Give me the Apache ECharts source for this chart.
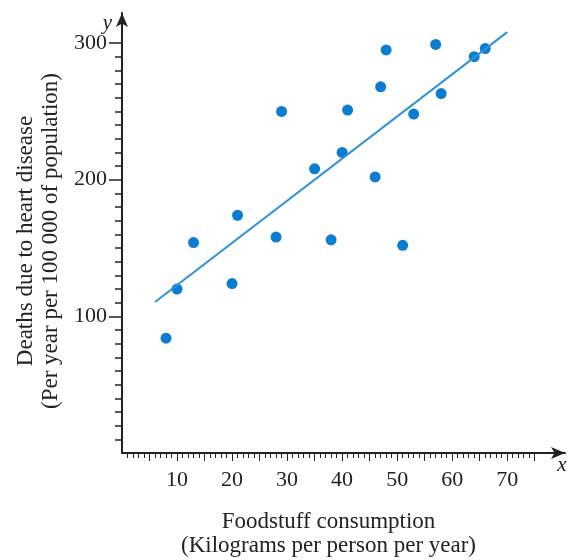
<!DOCTYPE html>
<html>
<head>
<meta charset="utf-8">
<script src="https://cdn.jsdelivr.net/npm/echarts@6/dist/echarts.min.js"></script>
<style>
  html, body { margin: 0; padding: 0; background: #fff; }
  #chart { width: 570px; height: 560px; }
</style>
</head>
<body>
<div id="chart"></div>
<script>
// foodstuff consumption (kg per person per year)
var consumption = [8, 10, 13, 20, 21, 28, 29, 35, 38, 40, 41, 46, 47, 48, 51, 53, 57, 58, 64, 66];
// deaths due to heart disease (per 100 000 of population)
var deaths = [84, 120, 154, 124, 174, 158, 250, 208, 156, 220, 251, 202, 268, 295, 152, 248, 299, 263, 290, 296];

// line of best fit, read at its two ends
var fitX = [6, 70];
var fitY = [110.5, 308];

// tick marks and labels
var xMinorTicks = [];
for (var i = 1; i <= 75; i++) xMinorTicks.push(i);
var xMajorTicks = [5, 10, 15, 20, 25, 30, 35, 40, 45, 50, 55, 60, 65, 70, 75];
var xLabels = [10, 20, 30, 40, 50, 60, 70];
var yMinorTicks = [];
for (var j = 10; j <= 290; j += 10) yMinorTicks.push(j);
var yLabels = [100, 200, 300];

var points = consumption.map(function (c, k) { return [c, deaths[k]]; });
var fitLine = fitX.map(function (c, k) { return [c, fitY[k]]; });

var chart = echarts.init(document.getElementById('chart'));

var serif = '"Liberation Serif", "DejaVu Serif", serif';
var ink = '#222';

var option = {
    animation: false,
    // fixed grid box, do not let the axis names squeeze it
    grid: { left: 122, right: 5, top: 13, bottom: 107, outerBoundsMode: 'none' },
    xAxis: [{
        type: 'value',
        min: 0,
        max: 80.5,
        splitLine: { show: false },
        axisLine: {
            onZero: false,
            lineStyle: { color: ink, width: 2 },
            symbol: ['none', 'arrow'],
            symbolSize: [9, 14]
        },
        axisTick: { customValues: xMinorTicks, length: 5, lineStyle: { color: ink, width: 1 } },
        axisLabel: { show: false },
        name: 'x',
        nameLocation: 'end',
        nameGap: -3,
        nameTextStyle: {
            fontFamily: serif, fontStyle: 'italic', fontSize: 21, color: ink,
            align: 'center', verticalAlign: 'top', padding: [2, 0, 0, 0]
        }
    }, {
        type: 'value',
        min: 0,
        max: 80.5,
        position: 'bottom',
        splitLine: { show: false },
        axisLine: { show: false, onZero: false },
        axisTick: { customValues: xMajorTicks, length: 8, lineStyle: { color: ink, width: 1 } },
        axisLabel: {
            customValues: xLabels, margin: 16,
            fontFamily: serif, fontSize: 22, color: ink
        },
        name: 'Foodstuff consumption\n(Kilograms per person per year)',
        nameLocation: 'middle',
        nameGap: 57,
        nameTextStyle: {
            fontFamily: serif, fontSize: 23, color: ink, lineHeight: 24,
            padding: [0, 30, 0, 0]
        }
    }],
    yAxis: [{
        type: 'value',
        min: 0,
        max: 322,
        splitLine: { show: false },
        axisLine: {
            onZero: false,
            lineStyle: { color: ink, width: 2 },
            symbol: ['none', 'arrow'],
            symbolSize: [9, 14]
        },
        axisTick: { customValues: yMinorTicks, length: 7, lineStyle: { color: ink, width: 1.5 } },
        axisLabel: { show: false },
        name: 'y',
        nameLocation: 'end',
        nameGap: -10,
        nameTextStyle: {
            fontFamily: serif, fontStyle: 'italic', fontSize: 21, color: ink,
            align: 'right', verticalAlign: 'middle', padding: [0, 10, 0, 0]
        }
    }, {
        type: 'value',
        min: 0,
        max: 322,
        position: 'left',
        splitLine: { show: false },
        axisLine: { show: false, onZero: false },
        axisTick: { customValues: yLabels, length: 13, lineStyle: { color: ink, width: 1.5 } },
        axisLabel: {
            customValues: yLabels, margin: 15,
            fontFamily: serif, fontSize: 22, color: ink
        },
        name: 'Deaths due to heart disease\n(Per year per 100 000 of population)',
        nameLocation: 'middle',
        nameGap: 57,
        nameTextStyle: {
            fontFamily: serif, fontSize: 23, color: ink, lineHeight: 25,
            padding: [0, 16, 0, 0]
        }
    }],
    series: [{
        type: 'line',
        data: fitLine,
        showSymbol: false,
        symbol: 'none',
        lineStyle: { color: '#3090d8', width: 2 },
        silent: true
    }, {
        type: 'scatter',
        data: points,
        symbolSize: 11,
        itemStyle: { color: '#0a7dd0', opacity: 1 }
    }]
};

chart.setOption(option);
</script>
</body>
</html>
